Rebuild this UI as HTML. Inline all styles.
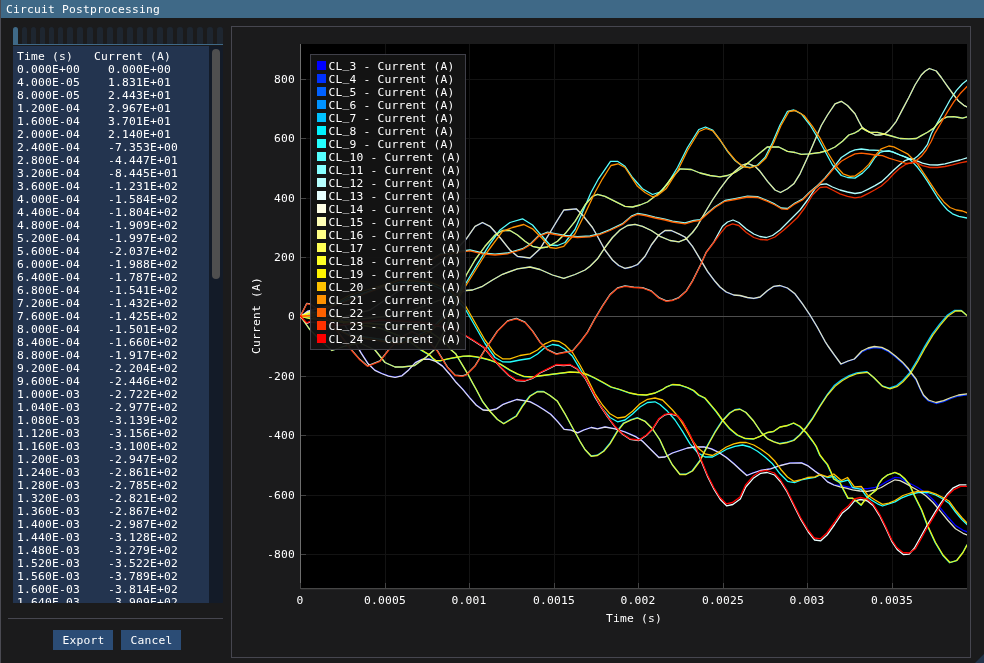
<!DOCTYPE html>
<html lang="en"><head><meta charset="utf-8"><title>Circuit Postprocessing</title>
<style>
*{box-sizing:border-box;margin:0;padding:0}
html,body{width:984px;height:663px;overflow:hidden;background:#1b1b1c}
body{position:relative;font-family:"DejaVu Sans Mono","Liberation Mono",monospace;font-size:11.3px;letter-spacing:0.198px;line-height:13px;color:#fff;white-space:pre;-webkit-font-smoothing:antialiased}
.abs,.tab,.yl,.xl{position:absolute}
#title{left:0;top:0;width:984px;height:18px;background:#3f6987}
#title span{position:absolute;left:6px;top:3px}
#lb{left:0;top:0;width:1px;height:663px;background:#4a4a52}
.tab{top:27px;height:17px;background:#1e2630;border-radius:2.5px 2.5px 0 0}
.tab.sel{background:#3f6987}
#tabline{left:13px;top:44px;width:210px;height:1px;background:#3f6987}
#child{left:13px;top:46px;width:210px;height:557px;background:#23344f;overflow:hidden}
#child pre{position:absolute;left:4px;top:4px;font:inherit;letter-spacing:inherit}
#sb{left:196px;top:0;width:14px;height:557px;background:#131b28}
#grab{left:3px;top:3px;width:8px;height:230px;background:#4f4f4f;border-radius:4px}
#sep{left:8px;top:618px;width:215px;height:1px;background:#46464f}
.btn{position:absolute;top:630px;width:60px;height:20px;background:#2b4c75;text-align:center;padding-top:4px}
#frame{left:231px;top:26px;width:740px;height:632px;border:1px solid #46464f}
#plot{left:0;top:0;width:984px;height:663px}
.g{fill:#131313}
.t{fill:#444}
.yl{left:224px;width:71px;text-align:right}
.xl{top:594px}
#ylab{left:250px;top:354px;transform-origin:0 0;transform:rotate(-90deg);width:77px}
#xlab{left:606px;top:612px}
#legend{left:310px;top:54px;width:156px;height:296px;background:rgba(20,20,20,0.94);border:1px solid rgba(110,110,128,0.5);padding:4px}
.li{height:13px;position:relative;padding-left:13.5px;top:1px}
.li i{position:absolute;left:2px;top:1px;width:9px;height:9px}
.u{position:relative;top:-2px}
#grip{left:975px;top:654px;width:0;height:0;border-left:9px solid transparent;border-bottom:9px solid #23344a}
polyline{fill:none;stroke-width:1.3;stroke-linejoin:round;stroke-linecap:round}
</style></head>
<body>
<div id="title" class="abs"><span>Circuit Postprocessing</span></div>
<div id="lb" class="abs"></div>
<div class="tab sel" style="left:13px;width:5px"></div>
<div class="tab" style="left:22px;width:5px"></div>
<div class="tab" style="left:31px;width:5px"></div>
<div class="tab" style="left:40px;width:5px"></div>
<div class="tab" style="left:49px;width:5px"></div>
<div class="tab" style="left:58px;width:5px"></div>
<div class="tab" style="left:67px;width:6px"></div>
<div class="tab" style="left:77px;width:6px"></div>
<div class="tab" style="left:87px;width:6px"></div>
<div class="tab" style="left:97px;width:6px"></div>
<div class="tab" style="left:107px;width:6px"></div>
<div class="tab" style="left:117px;width:6px"></div>
<div class="tab" style="left:127px;width:6px"></div>
<div class="tab" style="left:137px;width:6px"></div>
<div class="tab" style="left:147px;width:6px"></div>
<div class="tab" style="left:157px;width:6px"></div>
<div class="tab" style="left:167px;width:6px"></div>
<div class="tab" style="left:177px;width:6px"></div>
<div class="tab" style="left:187px;width:6px"></div>
<div class="tab" style="left:197px;width:6px"></div>
<div class="tab" style="left:207px;width:6px"></div>
<div class="tab" style="left:217px;width:6px"></div>
<div id="tabline" class="abs"></div>
<div id="child" class="abs"><pre>Time (s)   Current (A)
0.000E+00    0.000E+00
4.000E-05    1.831E+01
8.000E-05    2.443E+01
1.200E-04    2.967E+01
1.600E-04    3.701E+01
2.000E-04    2.140E+01
2.400E-04    -7.353E+00
2.800E-04    -4.447E+01
3.200E-04    -8.445E+01
3.600E-04    -1.231E+02
4.000E-04    -1.584E+02
4.400E-04    -1.804E+02
4.800E-04    -1.909E+02
5.200E-04    -1.997E+02
5.600E-04    -2.037E+02
6.000E-04    -1.988E+02
6.400E-04    -1.787E+02
6.800E-04    -1.541E+02
7.200E-04    -1.432E+02
7.600E-04    -1.425E+02
8.000E-04    -1.501E+02
8.400E-04    -1.660E+02
8.800E-04    -1.917E+02
9.200E-04    -2.204E+02
9.600E-04    -2.446E+02
1.000E-03    -2.722E+02
1.040E-03    -2.977E+02
1.080E-03    -3.139E+02
1.120E-03    -3.156E+02
1.160E-03    -3.100E+02
1.200E-03    -2.947E+02
1.240E-03    -2.861E+02
1.280E-03    -2.785E+02
1.320E-03    -2.821E+02
1.360E-03    -2.867E+02
1.400E-03    -2.987E+02
1.440E-03    -3.128E+02
1.480E-03    -3.279E+02
1.520E-03    -3.522E+02
1.560E-03    -3.789E+02
1.600E-03    -3.814E+02
1.640E-03    -3.909E+02</pre><div id="sb" class="abs"><div id="grab" class="abs"></div></div></div>
<div id="sep" class="abs"></div>
<div class="btn" style="left:53.4px">Export</div>
<div class="btn" style="left:121.4px">Cancel</div>
<div id="frame" class="abs"></div>
<svg id="plot" class="abs" width="984" height="663" viewBox="0 0 984 663">
<defs><clipPath id="pc"><rect x="300" y="44" width="667" height="544"/></clipPath></defs>
<rect x="300" y="44" width="667" height="544" fill="#000"/>
<rect x="385" y="44" width="1" height="544" class="g"/>
<rect x="469" y="44" width="1" height="544" class="g"/>
<rect x="554" y="44" width="1" height="544" class="g"/>
<rect x="638" y="44" width="1" height="544" class="g"/>
<rect x="723" y="44" width="1" height="544" class="g"/>
<rect x="807" y="44" width="1" height="544" class="g"/>
<rect x="892" y="44" width="1" height="544" class="g"/>
<rect x="301" y="554" width="666" height="1" class="g"/>
<rect x="301" y="495" width="666" height="1" class="g"/>
<rect x="301" y="435" width="666" height="1" class="g"/>
<rect x="301" y="376" width="666" height="1" class="g"/>
<rect x="301" y="316" width="666" height="1" class="g"/>
<rect x="301" y="257" width="666" height="1" class="g"/>
<rect x="301" y="198" width="666" height="1" class="g"/>
<rect x="301" y="138" width="666" height="1" class="g"/>
<rect x="301" y="79" width="666" height="1" class="g"/>
<rect x="300" y="44" width="1" height="545" fill="#6e6e6e"/>
<rect x="300" y="588" width="667" height="1" fill="#464646"/><rect x="301" y="589" width="666" height="1" fill="#262627"/>
<rect x="300" y="583" width="1" height="5" class="t"/>
<rect x="385" y="583" width="1" height="5" class="t"/>
<rect x="469" y="583" width="1" height="5" class="t"/>
<rect x="554" y="583" width="1" height="5" class="t"/>
<rect x="638" y="583" width="1" height="5" class="t"/>
<rect x="723" y="583" width="1" height="5" class="t"/>
<rect x="807" y="583" width="1" height="5" class="t"/>
<rect x="892" y="583" width="1" height="5" class="t"/>
<rect x="301" y="554" width="5" height="1" class="t"/>
<rect x="301" y="495" width="5" height="1" class="t"/>
<rect x="301" y="435" width="5" height="1" class="t"/>
<rect x="301" y="376" width="5" height="1" class="t"/>
<rect x="301" y="316" width="5" height="1" class="t"/>
<rect x="301" y="257" width="5" height="1" class="t"/>
<rect x="301" y="198" width="5" height="1" class="t"/>
<rect x="301" y="138" width="5" height="1" class="t"/>
<rect x="301" y="79" width="5" height="1" class="t"/>
<g clip-path="url(#pc)">
<rect x="301" y="316" width="666" height="1" fill="#4e4e4e"/>
<polyline points="300.6,316.6 307.4,311.2 314.1,309.3 320.9,307.8 327.6,305.6 334.4,310.2 341.2,318.8 347.9,329.8 354.7,341.7 361.4,353.2 368.2,363.6 375.0,370.2 381.7,373.3 388.5,375.9 395.2,377.1 402.0,375.6 408.8,369.7 415.5,362.4 422.3,359.1 429.0,358.9 435.8,361.2 442.6,365.9 449.3,373.5 456.1,382.1 462.8,389.2 469.6,397.4 476.4,405.0 483.1,409.8 489.9,410.3 496.6,408.7 503.4,404.1 510.2,401.6 516.9,399.3 523.7,400.4 530.4,401.7 537.2,405.3 544.0,409.5 550.7,414.0 557.5,421.2 564.2,429.1 571.0,429.9 577.8,432.7 583.9,429.8 591.4,427.3 597.6,428.6 605.1,426.8 615.1,428.6 625.1,431.8 635.1,436.1 642.6,441.1 650.1,448.6 658.9,457.3 665.1,456.8 672.6,452.8 680.1,450.3 687.6,447.8 695.1,446.8 703.9,446.6 711.4,448.6 718.9,452.3 726.4,457.3 733.9,463.6 740.1,469.3 746.9,475.3 753.1,472.8 760.6,470.3 770.6,468.6 780.6,465.3 790.1,462.9 801.4,462.7 807.6,465.4 815.1,471.1 821.4,475.4 827.6,481.7 833.9,484.8 840.1,485.4 846.4,486.7 852.6,487.9 860.1,488.6 867.6,488.6 875.1,487.3 881.4,484.8 887.6,481.1 895.1,477.3 900.1,477.9 905.1,481.1 910.6,483.8 918.1,487.8 925.6,492.8 933.1,499.8 940.6,508.3 948.1,517.3 955.6,525.6 963.1,530.3 967.1,531.8" stroke="#0000ff"/>
<polyline points="300.5,316.5 310.0,312.5 340.0,318.2 370.0,310.2 400.0,290.2 430.0,270.2 450.0,256.2 466.3,239.0 475.0,226.5 482.5,222.7 490.0,226.5 500.0,237.7 510.0,250.2 517.5,256.5 530.0,258.2 540.0,249.0 550.0,232.7 557.5,220.2 563.8,210.2 576.3,209.0 582.5,215.2 592.5,227.7 597.5,236.5 605.0,250.2 612.5,260.2 618.8,265.7 625.0,268.5 631.3,267.2 637.5,264.7 645.0,256.5 651.3,245.2 658.8,235.2 665.0,230.7 671.3,230.7 678.8,234.0 685.0,237.2 692.5,246.5 700.0,259.0 707.5,271.5 715.0,281.5 720.0,287.2 726.3,292.2 733.8,295.2 740.0,295.7 747.5,297.7 753.8,298.5 760.0,297.2 767.5,290.7 773.8,286.5 780.0,285.7 787.5,288.2 795.0,294.0 802.5,304.0 810.0,315.2 817.5,327.7 825.0,341.5 828.0,346.2 834.3,355.0 841.0,364.2 848.0,361.2 854.3,359.2 861.8,352.0 868.0,349.0 874.3,347.5 881.8,348.3 888.0,351.3 895.5,357.0 902.3,362.9 908.5,369.8 911.0,373.5 916.0,379.8 919.8,388.5 923.5,396.0 928.5,401.0 936.0,403.5 943.5,401.6 951.0,398.5 958.5,396.0 967.0,394.8" stroke="#0031ff"/>
<polyline points="300.5,316.3 310.0,311.3 350.0,320.0 400.0,315.0 440.0,300.0 466.3,290.5 472.5,290.0 482.5,286.3 492.5,280.0 502.5,274.3 517.5,268.8 530.0,267.0 540.0,269.5 552.5,275.0 563.8,278.3 575.0,274.5 585.0,270.0 590.0,266.3 597.5,258.8 605.0,247.5 612.5,237.5 620.0,230.0 627.5,225.5 635.0,224.3 642.5,226.3 651.3,230.5 660.0,236.3 670.0,240.5 678.8,241.8 686.3,238.8 692.5,232.5 697.5,225.8 705.0,212.5 712.5,200.0 720.0,188.8 727.5,178.8 735.0,171.3 742.5,165.0 747.5,163.3 755.0,166.3 760.0,171.3 767.5,181.3 775.0,190.0 780.5,192.5 787.5,188.8 793.8,183.8 800.0,173.8 807.5,157.5 815.0,140.0 821.3,125.5 827.5,115.0 835.0,103.8 841.3,101.3 847.5,105.5 855.0,113.8 858.8,121.3 861.9,126.9 865.0,129.4 870.0,132.5 875.0,135.0 880.0,135.0 885.0,133.8 890.0,129.4 896.3,121.3 902.5,109.4 908.8,97.5 915.0,85.0 921.3,75.0 925.0,71.3 929.4,68.5 936.3,71.0 941.3,77.5 947.5,86.3 953.8,95.0 958.8,101.3 963.8,105.3 967.0,106.9" stroke="#0061ff"/>
<polyline points="300.5,316.3 309.9,329.6 320.0,340.0 332.0,350.5 345.0,346.0 360.0,343.0 375.0,350.0 385.0,362.5 395.0,367.0 402.5,367.0 414.6,365.6 419.1,362.2 425.2,357.9 429.0,354.5 434.0,350.0 445.0,330.0 455.0,305.0 466.3,275.0 475.0,260.0 485.0,246.3 495.0,235.0 502.5,230.5 510.0,230.5 517.5,235.0 525.0,241.3 532.5,246.3 540.0,248.0 547.5,247.0 557.5,241.3 565.0,233.8 575.0,221.3 585.0,205.0 592.5,196.3 597.5,194.3 605.0,196.3 615.0,201.3 625.0,206.3 632.5,207.0 640.0,205.0 647.5,202.0 655.0,196.3 662.5,190.0 670.0,180.0 680.0,168.8 691.3,169.5 700.0,173.0 710.0,175.5 720.0,176.8 727.5,175.5 735.0,172.5 742.5,167.5 750.0,161.3 757.5,155.0 767.5,146.8 778.8,147.0 787.5,151.3 795.0,152.5 801.3,154.3 810.0,153.8 820.0,152.5 827.5,150.5 835.0,147.0 842.5,141.3 848.8,135.0 855.0,132.8 858.8,130.6 861.9,128.1 866.3,130.6 870.0,132.3 877.5,132.3 883.8,134.0 891.3,136.0 900.0,138.5 908.8,138.8 916.3,138.5 921.3,135.6 927.5,132.3 933.8,128.1 937.5,123.8 942.5,118.8 947.5,116.9 953.8,116.6 958.8,117.5 962.5,118.1 967.0,116.9" stroke="#0092ff"/>
<polyline points="300.2,316.0 309.7,318.4 349.7,321.7 399.7,325.7 429.7,331.7 444.7,341.7 450.9,349.7 455.4,353.4 458.5,358.7 463.1,366.4 467.7,374.0 472.2,382.4 476.0,389.2 482.2,401.0 489.7,411.0 497.2,419.2 503.5,423.5 509.7,419.7 516.0,416.0 522.2,406.0 529.7,396.0 537.2,391.5 543.5,391.5 549.7,395.2 557.2,401.0 564.7,413.5 572.2,427.2 579.7,441.0 584.7,449.2 591.0,456.0 597.2,455.2 603.5,451.0 609.7,443.5 617.2,431.0 623.5,423.0 631.0,419.7 637.2,417.7 644.7,421.0 652.2,428.5 659.7,439.7 666.0,453.5 672.2,464.7 679.7,474.2 685.7,474.2 692.2,470.7 699.7,460.7 707.2,445.7 714.7,432.2 722.2,420.7 729.7,412.7 734.7,409.7 739.7,409.0 745.7,412.2 753.5,421.0 761.0,432.2 767.2,438.5 773.5,441.5 779.7,443.5 787.2,442.2 793.5,440.2 799.7,434.7 806.0,427.2 812.2,418.5 819.7,406.0 827.2,394.7 834.1,385.6 841.6,379.8 849.1,375.6 856.6,372.8 866.6,371.6 873.4,377.3 881.6,385.6 889.1,388.1 896.6,385.6 902.1,381.1 909.6,372.8 917.1,360.3 924.6,346.6 932.1,334.1 939.6,324.1 947.1,315.3 954.6,310.3 960.9,310.3 966.1,314.8" stroke="#00c2ff"/>
<polyline points="300.2,316.5 309.7,313.4 339.7,322.2 379.7,328.2 404.7,338.2 421.1,350.1 424.9,352.4 429.5,355.1 432.6,358.5 435.6,360.8 440.2,360.8 446.3,359.3 452.4,358.1 458.5,357.0 463.1,356.4 469.2,356.2 475.2,356.8 480.6,357.9 484.7,358.9 489.7,360.2 499.7,364.0 509.7,370.2 517.2,374.0 523.5,376.5 532.2,377.0 542.2,375.7 554.7,374.0 569.7,372.2 579.7,372.7 587.2,374.7 594.7,378.2 602.2,382.2 611.0,387.2 619.7,389.7 629.7,393.2 637.2,394.7 646.0,395.2 654.7,393.2 662.2,389.7 666.0,387.2 672.2,384.7 679.7,385.2 687.2,387.7 693.5,390.7 698.5,395.2 704.7,398.2 709.7,404.0 716.0,411.5 722.2,420.2 729.7,429.0 737.2,435.2 744.7,438.5 753.5,439.0 759.7,436.5 767.2,432.7 773.5,431.5 779.7,427.2 787.2,425.7 793.5,423.2 799.7,426.5 806.0,432.7 812.7,441.5 816.0,446.5 819.7,455.2 823.5,460.2 827.2,464.6 831.0,472.7 833.5,479.0 839.7,482.7 843.5,490.2 847.8,498.3 852.2,498.3 856.6,501.5 861.0,505.2 864.7,500.2 869.7,495.2 876.0,490.2 878.5,484.0 882.2,479.0 887.2,475.2 894.7,472.5 899.7,474.6 904.7,479.0 909.7,485.2 914.0,495.2 921.5,510.2 927.7,526.5 935.2,542.7 942.7,555.2 949.7,562.7 956.5,560.7 962.7,552.7 966.7,545.2" stroke="#00f3ff"/>
<polyline points="300.5,316.3 310.0,316.8 350.0,297.0 400.0,282.0 430.0,284.0 450.0,293.0 465.0,308.5 475.0,326.0 485.0,343.5 495.0,357.5 502.5,361.8 510.0,362.0 520.0,360.0 530.0,358.5 537.5,354.0 545.0,347.5 552.5,344.5 558.8,345.5 565.0,349.3 572.5,356.3 580.0,368.8 587.5,382.5 595.0,397.5 602.5,408.8 610.0,417.5 617.5,421.8 625.0,420.0 632.5,414.0 640.0,407.0 647.5,402.5 655.0,401.8 660.0,404.5 667.5,411.3 675.0,420.0 682.5,431.3 690.0,443.8 697.5,452.5 705.0,457.0 712.5,457.0 720.0,453.0 727.5,448.8 735.0,446.3 742.5,445.0 750.0,447.0 757.5,451.3 765.0,457.0 772.5,463.8 780.0,473.8 787.5,481.3 790.0,481.9 795.0,482.5 801.3,479.8 807.5,478.5 815.0,477.3 820.0,475.0 827.5,477.5 833.8,476.3 837.5,480.0 841.3,481.9 848.1,480.0 852.5,487.5 861.3,489.4 866.3,496.3 871.3,500.0 877.5,503.8 882.5,506.0 888.8,503.8 895.0,501.9 901.3,498.1 907.5,495.6 913.0,493.8 918.0,492.5 928.0,492.5 935.5,495.0 943.0,499.0 949.3,503.5 955.5,512.0 961.8,519.5 967.0,524.5" stroke="#24ffff"/>
<polyline points="300.5,316.3 310.0,315.3 350.0,335.0 400.0,342.0 430.0,330.0 450.0,310.0 466.3,282.5 477.5,263.8 490.0,243.8 500.0,230.0 510.0,222.5 522.5,218.8 532.5,225.0 540.0,233.8 550.0,245.0 557.5,245.5 565.0,242.5 575.0,229.5 584.5,207.5 591.0,192.5 598.5,178.8 610.5,161.3 617.5,161.3 625.0,166.3 632.5,177.5 642.5,188.8 652.5,194.5 660.0,192.0 667.5,183.8 677.5,167.5 687.5,147.5 698.8,129.5 705.5,127.0 712.5,130.0 720.0,140.0 727.5,151.3 735.0,160.5 742.5,166.3 750.0,167.5 757.5,165.0 765.0,157.5 772.5,142.5 780.0,125.0 787.5,111.3 793.8,110.0 801.3,113.8 810.0,125.0 817.5,137.5 825.0,151.3 832.5,165.0 841.3,175.5 847.5,177.5 855.0,178.1 862.5,173.1 868.8,166.9 875.0,157.5 880.0,152.5 883.8,151.3 888.8,151.0 892.5,151.9 900.0,155.0 905.0,156.9 908.8,158.8 912.5,161.9 917.5,167.3 922.5,173.8 927.5,181.3 932.5,189.4 937.5,197.5 942.5,204.4 947.5,210.0 952.5,213.8 958.8,216.3 967.0,218.0" stroke="#55ffff"/>
<polyline points="300.5,315.5 310.0,314.7 350.0,299.2 400.0,279.2 440.0,254.2 466.3,250.5 470.0,250.0 482.5,253.0 495.0,254.2 507.5,253.0 522.5,248.7 530.0,244.2 538.8,235.5 547.5,232.2 555.0,233.7 565.0,235.5 577.5,236.7 590.0,236.0 600.0,233.7 610.0,229.7 622.5,223.7 631.3,216.2 637.5,213.5 645.0,214.7 655.0,217.2 665.0,219.2 672.5,221.2 685.0,223.0 693.8,220.5 700.0,219.7 707.5,213.0 715.0,206.7 725.0,200.5 735.0,198.7 747.5,196.2 757.5,196.7 767.5,200.5 775.0,204.2 781.3,208.0 787.5,208.5 795.0,203.0 802.5,199.2 810.0,191.7 817.5,185.5 825.0,178.0 832.5,168.8 841.3,157.5 850.0,151.9 855.0,149.8 861.3,149.0 868.8,150.0 878.8,150.3 883.8,151.3 888.8,151.0 892.5,151.9 900.0,155.0 905.0,156.9 910.0,158.8 913.8,159.0 917.5,156.3 922.5,151.3 927.5,144.4 931.3,133.8 937.5,122.5 943.8,111.3 950.0,100.0 956.3,90.6 962.5,83.8 967.0,80.3" stroke="#86ffff"/>
<polyline points="300.5,315.9 306.8,303.3 310.0,303.9 325.0,314.6 340.0,334.6 351.3,349.6 360.0,359.6 367.5,365.9 380.0,360.9 388.8,349.6 400.0,337.6 412.0,331.6 425.0,337.6 437.5,350.9 447.5,367.1 455.0,375.1 462.5,375.9 466.3,374.6 475.0,365.9 485.0,349.6 497.5,330.9 507.5,320.9 516.3,318.4 525.0,322.1 532.5,330.9 540.0,342.1 547.5,349.6 556.3,353.9 565.0,352.1 572.5,350.9 580.0,342.1 587.5,332.1 595.0,318.4 602.5,305.9 610.0,294.6 617.5,287.9 625.0,285.9 633.8,287.1 642.5,287.6 651.3,290.9 658.8,297.6 666.3,300.9 672.5,300.1 678.8,297.6 686.3,290.9 692.5,280.9 700.0,265.9 706.3,252.1 713.8,242.1 719.0,232.5 722.5,226.3 727.5,222.0 733.0,220.0 738.8,222.5 746.3,229.0 753.8,234.0 760.0,236.5 766.3,237.5 772.5,235.5 780.0,230.0 787.5,222.5 790.0,220.0 800.0,210.0 807.5,200.0 815.0,188.8 820.0,184.5 826.3,183.8 832.5,187.0 840.0,190.0 847.5,192.0 855.0,193.5 861.3,192.5 868.8,188.8 875.0,185.6 881.3,181.9 887.5,176.3 893.8,170.0 900.0,164.4 905.0,160.6 910.0,158.8 916.3,160.6 922.5,163.1 930.0,164.8 937.5,165.0 945.0,163.8 952.5,161.9 960.0,160.0 967.0,157.9" stroke="#b6ffff"/>
<polyline points="300.5,316.8 306.8,323.4 310.0,321.9 340.0,325.5 380.0,320.5 420.0,322.5 450.0,328.5 465.0,335.5 475.0,341.8 483.8,347.5 492.5,358.0 500.0,366.8 508.8,375.5 516.3,380.5 525.0,381.0 532.5,378.5 540.0,373.0 547.5,369.3 556.3,365.0 563.8,365.5 570.0,365.0 577.5,369.3 585.0,378.0 592.5,391.8 600.0,405.5 607.5,416.8 615.0,426.8 622.5,434.3 630.0,439.3 638.8,440.5 646.3,435.5 652.5,429.3 658.8,419.3 665.0,414.8 670.0,413.8 677.5,416.0 682.5,421.8 688.8,433.0 695.3,447.0 701.6,462.0 707.8,477.0 714.1,489.5 720.3,499.5 726.6,505.8 732.8,504.5 740.3,499.0 745.8,487.0 753.3,478.3 760.8,473.3 767.1,472.5 774.6,475.0 780.8,482.0 787.1,492.0 793.3,504.5 800.8,519.5 808.3,532.0 814.6,540.0 820.8,540.8 827.1,535.0 834.6,524.5 842.1,513.3 848.3,508.3 854.6,500.8 860.8,499.5 867.1,500.8 873.3,505.8 879.6,515.8 885.8,528.3 892.1,542.0 897.1,549.5 903.3,554.5 909.0,554.2 914.3,548.3 920.6,537.0 926.8,525.8 934.3,513.3 940.6,503.3 946.8,494.5 953.3,487.8 959.5,484.8 966.0,484.8" stroke="#e7ffff"/>
<polyline points="300.5,316.8 307.3,311.4 314.0,309.5 320.8,308.0 327.5,305.8 334.3,310.4 341.1,319.0 347.8,330.0 354.6,341.9 361.3,353.4 368.1,363.8 374.9,370.4 381.6,373.5 388.4,376.1 395.1,377.3 401.9,375.8 408.7,369.9 415.4,362.6 422.2,359.3 428.9,359.1 435.7,361.4 442.5,366.1 449.2,373.7 456.0,382.3 462.7,389.4 469.5,397.6 476.3,405.2 483.0,410.0 489.8,410.5 496.5,408.9 503.3,404.3 510.1,401.8 516.8,399.5 523.6,400.6 530.3,401.9 537.1,405.5 543.9,409.7 550.6,414.2 557.4,421.4 564.1,429.3 570.9,430.1 577.7,432.9 583.8,430.0 591.3,427.5 597.5,428.8 605.0,427.0 615.0,428.8 625.0,432.0 635.0,436.3 642.5,441.3 650.0,448.8 658.8,457.5 665.0,457.0 672.5,453.0 680.0,450.5 687.5,448.0 695.0,447.0 703.8,446.8 711.3,448.8 718.8,452.5 726.3,457.5 733.8,463.8 740.0,469.5 746.8,475.5 753.0,473.0 760.5,470.5 770.5,468.8 780.5,465.5 790.0,463.1 801.3,462.9 807.5,465.6 815.0,471.3 821.3,475.6 827.5,481.9 833.8,485.0 840.0,486.9 846.3,488.1 852.5,489.8 860.0,491.0 867.5,491.3 875.0,490.0 881.3,487.5 887.5,483.8 895.0,479.8 900.0,480.6 905.0,483.1 910.5,486.3 918.0,490.5 925.5,495.5 933.0,502.5 940.5,511.3 948.0,520.5 955.5,528.8 963.0,533.3 967.0,535.0" stroke="#ffffe7" stroke-opacity="0.87"/>
<polyline points="300.5,316.3 310.0,312.3 340.0,318.0 370.0,310.0 400.0,290.0 430.0,270.0 450.0,256.0 466.3,238.8 475.0,226.3 482.5,222.5 490.0,226.3 500.0,237.5 510.0,250.0 517.5,256.3 530.0,258.0 540.0,248.8 550.0,232.5 557.5,220.0 563.8,210.0 576.3,208.8 582.5,215.0 592.5,227.5 597.5,236.3 605.0,250.0 612.5,260.0 618.8,265.5 625.0,268.3 631.3,267.0 637.5,264.5 645.0,256.3 651.3,245.0 658.8,235.0 665.0,230.5 671.3,230.5 678.8,233.8 685.0,237.0 692.5,246.3 700.0,258.8 707.5,271.3 715.0,281.3 720.0,287.0 726.3,292.0 733.8,295.0 740.0,295.5 747.5,297.5 753.8,298.3 760.0,297.0 767.5,290.5 773.8,286.3 780.0,285.5 787.5,288.0 795.0,293.8 802.5,303.8 810.0,315.0 817.5,327.5 825.0,341.3 828.0,346.0 834.3,354.8 841.0,364.0 848.0,361.0 854.3,359.0 861.8,351.0 868.0,348.0 874.3,346.5 881.8,347.3 888.0,350.3 895.5,356.0 902.3,361.9 908.5,368.8 911.0,372.5 916.0,378.8 919.8,387.5 923.5,395.0 928.5,400.0 936.0,402.5 943.5,400.6 951.0,397.5 958.5,395.0 967.0,393.8" stroke="#ffffb6" stroke-opacity="0.88"/>
<polyline points="300.5,316.3 310.0,311.3 350.0,320.0 400.0,315.0 440.0,300.0 466.3,290.5 472.5,290.0 482.5,286.3 492.5,280.0 502.5,274.3 517.5,268.8 530.0,267.0 540.0,269.5 552.5,275.0 563.8,278.3 575.0,274.5 585.0,270.0 590.0,266.3 597.5,258.8 605.0,247.5 612.5,237.5 620.0,230.0 627.5,225.5 635.0,224.3 642.5,226.3 651.3,230.5 660.0,236.3 670.0,240.5 678.8,241.8 686.3,238.8 692.5,232.5 697.5,225.8 705.0,212.5 712.5,200.0 720.0,188.8 727.5,178.8 735.0,171.3 742.5,165.0 747.5,163.3 755.0,166.3 760.0,171.3 767.5,181.3 775.0,190.0 780.5,192.5 787.5,188.8 793.8,183.8 800.0,173.8 807.5,157.5 815.0,140.0 821.3,125.5 827.5,115.0 835.0,103.8 841.3,101.3 847.5,105.5 855.0,113.8 858.8,121.3 861.9,126.9 865.0,129.4 870.0,132.5 875.0,135.0 880.0,135.0 885.0,133.8 890.0,129.4 896.3,121.3 902.5,109.4 908.8,97.5 915.0,85.0 921.3,75.0 925.0,71.3 929.4,68.5 936.3,71.0 941.3,77.5 947.5,86.3 953.8,95.0 958.8,101.3 963.8,105.3 967.0,106.9" stroke="#ffff86" stroke-opacity="0.9"/>
<polyline points="300.5,316.3 309.9,329.6 320.0,340.0 332.0,350.5 345.0,346.0 360.0,343.0 375.0,350.0 385.0,362.5 395.0,367.0 402.5,367.0 414.6,365.6 419.1,362.2 425.2,357.9 429.0,354.5 434.0,350.0 445.0,330.0 455.0,305.0 466.3,275.0 475.0,260.0 485.0,246.3 495.0,235.0 502.5,230.5 510.0,230.5 517.5,235.0 525.0,241.3 532.5,246.3 540.0,248.0 547.5,247.0 557.5,241.3 565.0,233.8 575.0,221.3 585.0,205.0 592.5,196.3 597.5,194.3 605.0,196.3 615.0,201.3 625.0,206.3 632.5,207.0 640.0,205.0 647.5,202.0 655.0,196.3 662.5,190.0 670.0,180.0 680.0,168.8 691.3,169.5 700.0,173.0 710.0,175.5 720.0,176.8 727.5,175.5 735.0,172.5 742.5,167.5 750.0,161.3 757.5,155.0 767.5,146.8 778.8,147.0 787.5,151.3 795.0,152.5 801.3,154.3 810.0,153.8 820.0,152.5 827.5,150.5 835.0,147.0 842.5,141.3 848.8,135.0 855.0,132.8 858.8,130.6 861.9,128.1 866.3,130.6 870.0,132.3 877.5,132.3 883.8,134.0 891.3,136.0 900.0,138.5 908.8,138.8 916.3,138.5 921.3,135.6 927.5,132.3 933.8,128.1 937.5,123.8 942.5,118.8 947.5,116.9 953.8,116.6 958.8,117.5 962.5,118.1 967.0,116.9" stroke="#ffff55" stroke-opacity="0.88"/>
<polyline points="300.5,316.3 310.0,318.7 350.0,322.0 400.0,326.0 430.0,332.0 445.0,342.0 451.2,350.0 455.7,353.7 458.8,359.0 463.4,366.7 468.0,374.3 472.5,382.7 476.3,389.5 482.5,401.3 490.0,411.3 497.5,419.5 503.8,423.8 510.0,420.0 516.3,416.3 522.5,406.3 530.0,396.3 537.5,391.8 543.8,391.8 550.0,395.5 557.5,401.3 565.0,413.8 572.5,427.5 580.0,441.3 585.0,449.5 591.3,456.3 597.5,455.5 603.8,451.3 610.0,443.8 617.5,431.3 623.8,423.3 631.3,420.0 637.5,418.0 645.0,421.3 652.5,428.8 660.0,440.0 666.3,453.8 672.5,465.0 680.0,474.5 686.0,474.5 692.5,471.0 700.0,461.0 707.5,446.0 715.0,432.5 722.5,421.0 730.0,413.0 735.0,410.0 740.0,409.3 746.0,412.5 753.8,421.3 761.3,432.5 767.5,438.8 773.8,441.8 780.0,443.8 787.5,442.5 793.8,440.5 800.0,435.0 806.3,427.5 812.5,418.8 820.0,406.3 827.5,395.0 835.0,386.3 842.5,380.5 850.0,376.3 857.5,373.5 867.5,372.3 874.3,378.0 882.5,386.3 890.0,388.8 897.5,386.3 903.0,381.8 910.5,373.5 918.0,361.0 925.5,347.3 933.0,334.8 940.5,324.8 948.0,316.0 955.5,311.0 961.8,311.0 967.0,315.5" stroke="#ffff24" stroke-opacity="0.88"/>
<polyline points="300.5,316.3 310.0,313.2 340.0,322.0 380.0,328.0 405.0,338.0 421.4,349.9 425.2,352.2 429.8,354.9 432.9,358.3 435.9,360.6 440.5,360.6 446.6,359.1 452.7,357.9 458.8,356.8 463.4,356.2 469.5,356.0 475.5,356.6 480.9,357.7 485.0,358.7 490.0,360.0 500.0,363.8 510.0,370.0 517.5,373.8 523.8,376.3 532.5,376.8 542.5,375.5 555.0,373.8 570.0,372.0 580.0,372.5 587.5,374.5 595.0,378.0 602.5,382.0 611.3,387.0 620.0,389.5 630.0,393.0 637.5,394.5 646.3,395.0 655.0,393.0 662.5,389.5 666.3,387.0 672.5,384.5 680.0,385.0 687.5,387.5 693.8,390.5 698.8,395.0 705.0,398.0 710.0,403.8 716.3,411.3 722.5,420.0 730.0,428.8 737.5,435.0 745.0,438.3 753.8,438.8 760.0,436.3 767.5,432.5 773.8,431.3 780.0,427.0 787.5,425.5 793.8,423.0 800.0,426.3 806.3,432.5 813.0,441.3 816.3,446.3 820.0,455.0 823.8,460.0 827.5,464.4 831.3,472.5 833.8,478.8 840.0,482.5 843.8,490.0 848.1,498.1 852.5,498.1 856.9,501.3 861.3,505.0 865.0,500.0 870.0,495.0 876.3,490.0 878.8,483.8 882.5,478.8 887.5,475.0 895.0,472.3 900.0,474.4 905.0,478.8 910.0,485.0 914.3,495.0 921.8,510.0 928.0,526.3 935.5,542.5 943.0,555.0 950.0,562.5 956.8,560.5 963.0,552.5 967.0,545.0" stroke="#fff300" stroke-opacity="0.92"/>
<polyline points="300.5,316.3 310.0,316.8 350.0,295.0 400.0,280.0 430.0,282.0 450.0,290.0 465.0,305.0 475.0,322.5 485.0,340.0 495.0,353.8 502.5,358.8 510.0,358.8 520.0,355.5 530.0,353.8 537.5,350.0 545.0,343.8 552.5,340.5 558.8,341.3 565.0,345.0 572.5,352.5 580.0,365.0 587.5,378.8 595.0,393.8 602.5,405.0 610.0,413.8 617.5,418.0 625.0,417.0 632.5,411.3 640.0,403.8 647.5,399.3 655.0,398.0 662.5,400.0 666.3,403.8 672.5,410.0 678.8,417.5 685.0,427.5 691.3,438.8 697.5,447.5 705.0,453.8 712.5,455.5 720.0,451.3 726.3,447.0 733.8,443.8 740.0,442.5 746.3,442.5 753.8,445.0 761.3,449.5 768.8,455.0 775.0,461.3 781.3,470.0 787.5,477.0 793.8,481.3 800.0,480.0 807.5,477.5 815.0,476.9 820.0,474.4 827.5,476.9 833.8,474.0 841.3,480.6 847.5,477.5 854.4,486.9 861.3,486.5 867.5,495.0 875.0,500.0 882.5,504.4 888.8,503.1 895.0,500.5 903.0,495.5 910.5,493.0 918.0,491.3 928.0,491.3 935.5,493.8 943.0,497.5 949.3,501.3 955.5,510.0 961.8,517.5 967.0,523.0" stroke="#ffc200"/>
<polyline points="300.5,316.3 310.0,315.3 350.0,336.0 400.0,344.0 430.0,332.0 450.0,313.0 466.3,285.0 485.0,255.0 502.5,231.3 512.5,227.5 523.8,224.5 532.5,228.8 542.5,238.8 550.0,247.5 556.0,248.3 563.8,246.3 575.0,233.8 585.0,213.8 595.0,192.5 602.5,178.8 611.0,165.5 618.0,163.8 625.0,167.5 637.5,186.3 645.0,192.5 652.5,196.8 657.5,195.5 666.0,188.8 677.5,171.0 687.5,150.5 699.0,131.5 706.0,128.5 713.0,131.0 720.5,140.5 728.0,151.5 735.5,160.5 743.0,166.5 750.0,167.8 758.0,165.5 766.0,158.0 773.5,143.0 781.0,125.5 789.0,111.5 795.5,110.5 804.0,115.5 812.5,126.3 820.0,138.0 828.0,153.0 836.0,166.0 843.0,173.8 850.0,176.3 855.0,176.0 862.5,170.6 868.8,164.4 875.0,155.6 881.3,148.8 888.8,146.0 893.8,146.9 900.0,150.0 907.5,153.8 912.5,158.8 917.5,163.8 922.5,171.3 927.5,178.8 932.5,186.3 937.5,193.8 943.8,201.9 950.0,207.5 956.3,210.0 962.5,211.0 967.0,212.8" stroke="#ff9200"/>
<polyline points="300.5,316.3 310.0,315.5 350.0,300.0 400.0,280.0 440.0,255.0 466.3,251.3 470.0,250.8 482.5,253.8 495.0,255.0 507.5,253.8 522.5,249.5 530.0,245.0 538.8,236.3 547.5,233.0 555.0,234.5 565.0,236.3 577.5,237.5 590.0,236.8 600.0,234.5 610.0,230.5 622.5,224.5 631.3,217.0 637.5,214.3 645.0,215.5 655.0,218.0 665.0,220.0 672.5,222.0 685.0,223.8 693.8,221.3 700.0,220.5 707.5,213.8 715.0,207.5 725.0,201.3 735.0,199.5 747.5,197.0 757.5,197.5 767.5,201.3 775.0,205.0 781.3,208.8 787.5,209.3 795.0,203.8 802.5,200.0 810.0,192.5 817.5,186.3 825.0,178.8 832.5,170.0 841.3,161.3 850.0,156.3 855.0,153.8 861.3,153.1 868.8,154.0 875.0,155.0 882.5,155.6 888.8,158.1 895.0,160.0 901.3,161.9 906.3,163.5 911.3,163.1 916.3,160.6 921.3,156.3 926.3,150.0 931.3,141.3 935.0,133.1 941.3,122.5 947.5,111.9 953.8,101.9 960.0,93.8 967.0,86.5" stroke="#ff6100"/>
<polyline points="300.5,316.3 306.8,303.7 310.0,304.3 325.0,315.0 340.0,335.0 351.3,350.0 360.0,360.0 367.5,366.3 380.0,361.3 388.8,350.0 400.0,338.0 412.0,332.0 425.0,338.0 437.5,351.3 447.5,367.5 455.0,375.5 462.5,376.3 466.3,375.0 475.0,366.3 485.0,350.0 497.5,331.3 507.5,321.3 516.3,318.8 525.0,322.5 532.5,331.3 540.0,342.5 547.5,350.0 556.3,354.3 565.0,352.5 572.5,351.3 580.0,342.5 587.5,332.5 595.0,318.8 602.5,306.3 610.0,295.0 617.5,288.3 625.0,286.3 633.8,287.5 642.5,288.0 651.3,291.3 658.8,298.0 666.3,301.3 672.5,300.5 678.8,298.0 686.3,291.3 692.5,281.3 700.0,266.3 706.3,252.5 713.8,242.5 720.0,233.8 726.3,226.3 732.5,223.8 738.8,225.5 746.3,232.5 753.8,237.5 760.0,239.5 767.5,240.0 775.0,237.0 783.8,230.0 790.0,224.5 797.5,217.5 805.0,207.5 812.5,195.0 820.0,187.5 826.3,186.8 832.5,190.0 840.0,193.8 847.5,196.3 855.0,197.8 861.3,196.9 868.8,193.1 875.0,189.8 881.3,186.0 887.5,180.6 893.8,173.8 900.0,168.1 906.3,164.0 912.5,162.3 916.3,162.5 922.5,165.6 930.0,167.5 937.5,167.5 945.0,166.5 952.5,164.8 960.0,162.8 967.0,161.5" stroke="#ff3100" stroke-opacity="0.9"/>
<polyline points="300.5,316.3 306.8,322.9 310.0,321.4 340.0,325.0 380.0,320.0 420.0,322.0 450.0,328.0 465.0,335.0 475.0,341.3 483.8,347.0 492.5,357.5 500.0,366.3 508.8,375.0 516.3,380.0 525.0,380.5 532.5,378.0 540.0,372.5 547.5,368.8 556.3,364.5 563.8,365.0 570.0,364.5 577.5,368.8 585.0,377.5 592.5,391.3 600.0,405.0 607.5,416.3 615.0,426.3 622.5,433.8 630.0,438.8 638.8,440.0 646.3,435.0 652.5,428.8 658.8,418.8 665.0,414.3 670.0,413.3 677.5,415.5 682.5,421.3 688.8,432.5 695.0,445.0 701.3,460.0 707.5,475.0 713.8,487.5 720.0,497.5 726.3,503.8 732.5,502.5 740.0,497.0 745.5,485.0 753.0,476.3 760.5,471.3 766.8,470.5 774.3,473.0 780.5,480.0 786.8,490.0 793.0,502.5 800.5,517.5 808.0,530.0 814.3,538.0 820.5,538.8 826.8,533.0 834.3,522.5 841.8,511.3 848.0,506.3 854.3,498.8 860.5,497.5 866.8,498.8 873.0,503.8 879.3,513.8 885.5,526.3 891.8,540.0 896.8,547.5 903.0,552.5 909.3,553.0 915.5,548.8 921.8,537.5 928.0,526.3 935.5,513.8 941.8,503.8 948.0,495.0 954.3,489.3 960.5,486.3 967.0,486.3" stroke="#ff0000"/>
</g>
</svg>
<div class="yl" style="top:548px">-800</div><div class="yl" style="top:489px">-600</div><div class="yl" style="top:429px">-400</div><div class="yl" style="top:370px">-200</div><div class="yl" style="top:310px">0</div><div class="yl" style="top:251px">200</div><div class="yl" style="top:192px">400</div><div class="yl" style="top:132px">600</div><div class="yl" style="top:73px">800</div>
<div class="xl" style="left:296.5px">0</div><div class="xl" style="left:364.0px">0.0005</div><div class="xl" style="left:451.5px">0.001</div><div class="xl" style="left:533.0px">0.0015</div><div class="xl" style="left:620.5px">0.002</div><div class="xl" style="left:702.0px">0.0025</div><div class="xl" style="left:789.5px">0.003</div><div class="xl" style="left:871.0px">0.0035</div>
<div id="ylab" class="abs">Current (A)</div>
<div id="xlab" class="abs">Time (s)</div>
<div id="legend" class="abs"><div class="li"><i style="background:#0000ff"></i>CL<span class="u">_</span>3 - Current (A)</div><div class="li"><i style="background:#0031ff"></i>CL<span class="u">_</span>4 - Current (A)</div><div class="li"><i style="background:#0061ff"></i>CL<span class="u">_</span>5 - Current (A)</div><div class="li"><i style="background:#0092ff"></i>CL<span class="u">_</span>6 - Current (A)</div><div class="li"><i style="background:#00c2ff"></i>CL<span class="u">_</span>7 - Current (A)</div><div class="li"><i style="background:#00f3ff"></i>CL<span class="u">_</span>8 - Current (A)</div><div class="li"><i style="background:#24ffff"></i>CL<span class="u">_</span>9 - Current (A)</div><div class="li"><i style="background:#55ffff"></i>CL<span class="u">_</span>10 - Current (A)</div><div class="li"><i style="background:#86ffff"></i>CL<span class="u">_</span>11 - Current (A)</div><div class="li"><i style="background:#b6ffff"></i>CL<span class="u">_</span>12 - Current (A)</div><div class="li"><i style="background:#e7ffff"></i>CL<span class="u">_</span>13 - Current (A)</div><div class="li"><i style="background:#ffffe7"></i>CL<span class="u">_</span>14 - Current (A)</div><div class="li"><i style="background:#ffffb6"></i>CL<span class="u">_</span>15 - Current (A)</div><div class="li"><i style="background:#ffff86"></i>CL<span class="u">_</span>16 - Current (A)</div><div class="li"><i style="background:#ffff55"></i>CL<span class="u">_</span>17 - Current (A)</div><div class="li"><i style="background:#ffff24"></i>CL<span class="u">_</span>18 - Current (A)</div><div class="li"><i style="background:#fff300"></i>CL<span class="u">_</span>19 - Current (A)</div><div class="li"><i style="background:#ffc200"></i>CL<span class="u">_</span>20 - Current (A)</div><div class="li"><i style="background:#ff9200"></i>CL<span class="u">_</span>21 - Current (A)</div><div class="li"><i style="background:#ff6100"></i>CL<span class="u">_</span>22 - Current (A)</div><div class="li"><i style="background:#ff3100"></i>CL<span class="u">_</span>23 - Current (A)</div><div class="li"><i style="background:#ff0000"></i>CL<span class="u">_</span>24 - Current (A)</div></div>
<div id="grip" class="abs"></div>
</body></html>
